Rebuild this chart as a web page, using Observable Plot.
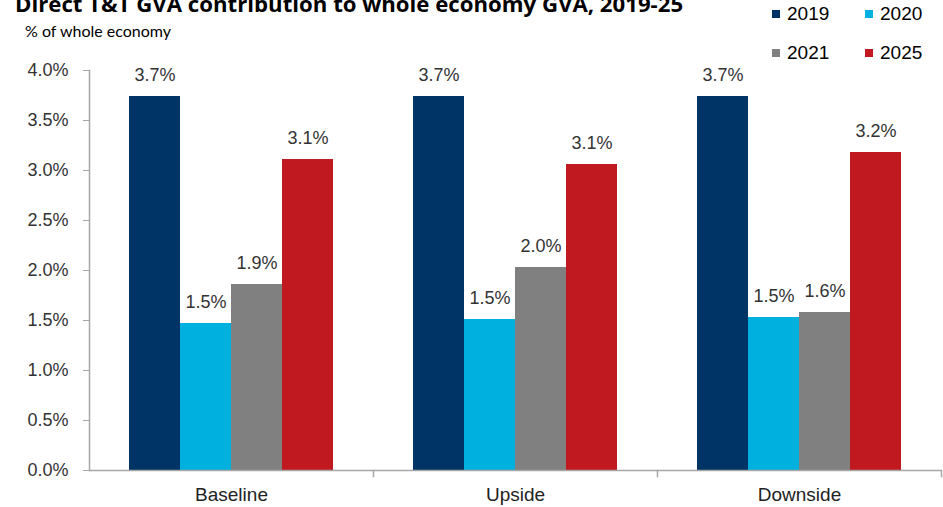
<!DOCTYPE html>
<html>
<head>
<meta charset="utf-8">
<script src="https://cdn.jsdelivr.net/npm/d3@7"></script>
<script src="https://cdn.jsdelivr.net/npm/@observablehq/plot@0.6"></script>
<style>
  html, body { margin: 0; padding: 0; background: #fff; }
  #wrap { position: relative; width: 943px; height: 507px; overflow: hidden; }
  #title { position: absolute; left: 15px; top: -12px; font-family: "Open Sans", sans-serif; font-weight: 700; font-size: 22.2px; color: #000; white-space: nowrap; }
  #sub { position: absolute; left: 25px; top: 21px; font-family: Lato, sans-serif; font-size: 16px; color: #000; white-space: nowrap; }
  #legend { position: absolute; left: 772px; top: 3px; font-family: "Liberation Sans", Arial, sans-serif; font-size: 19px; color: #000; display: grid; grid-template-columns: 93px 80px; row-gap: 17px; }
  #legend .it { display: flex; align-items: center; height: 22px; }
  #legend .sw { width: 8px; height: 8px; margin-right: 7px; }
  #chart { position: absolute; left: 0; top: 0; }
</style>
</head>
<body>
<div id="wrap">
  <div id="chart"></div>
  <div id="title">Direct T&amp;T GVA contribution to whole economy GVA, 2019-25</div>
  <div id="sub">% of whole economy</div>
  <div id="legend"></div>
</div>
<script>
const scenarios = ["Baseline", "Upside", "Downside"];
const years = ["2019", "2020", "2021", "2025"];
const v2019 = [3.74, 3.74, 3.74];
const v2020 = [1.47, 1.51, 1.53];
const v2021 = [1.86, 2.03, 1.58];
const v2025 = [3.11, 3.06, 3.18];
const yTicks = [0, 0.5, 1.0, 1.5, 2.0, 2.5, 3.0, 3.5, 4.0];
const colors = ["#003366", "#00b0de", "#808080", "#c01a20"];

const series = [v2019, v2020, v2021, v2025];
const data = [];
scenarios.forEach((s, i) => {
  years.forEach((y, j) => data.push({scenario: s, year: y, value: series[j][i]}));
});

const axisColor = "#a6a6a6";
const chart = Plot.plot({
  width: 943,
  height: 507,
  marginTop: 70,
  marginBottom: 37,
  marginLeft: 88,
  marginRight: 1,
  style: {fontFamily: "'Liberation Sans', Arial, sans-serif", fontSize: "18px", color: "#333", background: "white"},
  fx: {domain: scenarios, padding: 0, label: null, axis: null},
  x: {domain: years, paddingInner: 0, paddingOuter: 0.737, axis: null},
  y: {domain: [0, 4], label: null, axis: null},
  color: {domain: years, range: colors},
  marks: [
    Plot.barY(data, {fx: "scenario", x: "year", y: "value", fill: "year"}),
    Plot.text(data, {fx: "scenario", x: "year", y: "value", text: d => d.value.toFixed(1) + "%", dy: -21, fontSize: 18, fill: "#333"}),
    Plot.axisY({ticks: yTicks, tickFormat: d => d.toFixed(1) + "%", tickSize: 6, tickPadding: 15, stroke: axisColor, fill: "#333", fontSize: 18, label: null}),
    Plot.axisFx({anchor: "bottom", tickSize: 0, tickPadding: 17, fontSize: 19, fill: "#222", label: null}),
    Plot.frame({anchor: "left", facetAnchor: "left", stroke: axisColor, strokeWidth: 1.5}),
    Plot.frame({anchor: "right", insetTop: 400, insetBottom: -6, stroke: axisColor, strokeWidth: 1.5}),
    Plot.ruleY([0], {stroke: axisColor, strokeWidth: 1.5})
  ]
});
document.getElementById("chart").append(chart);

const leg = document.getElementById("legend");
years.forEach((y, j) => {
  const it = document.createElement("div");
  it.className = "it";
  it.innerHTML = `<span class="sw" style="background:${colors[j]}"></span><span>${y}</span>`;
  leg.append(it);
});
</script>
</body>
</html>
